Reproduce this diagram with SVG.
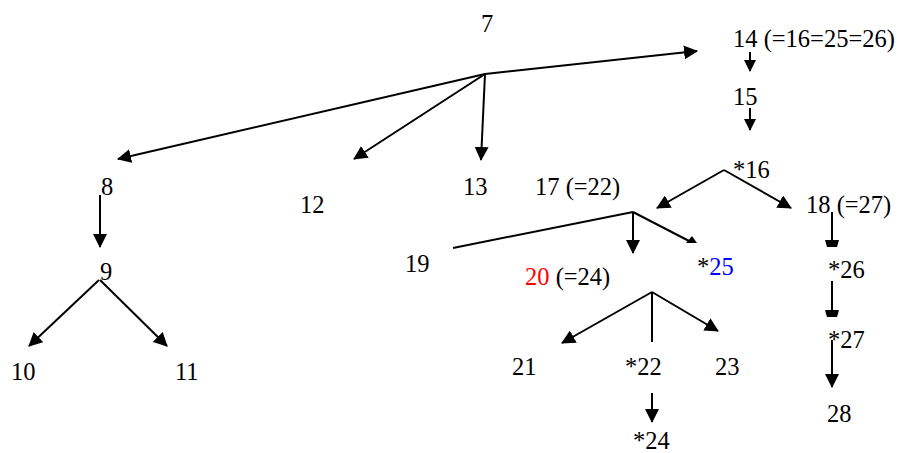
<svg xmlns="http://www.w3.org/2000/svg" width="898" height="453" viewBox="0 0 898 453">
<style>
text { font-family: 'Liberation Serif', 'Times New Roman', Tinos, 'DejaVu Serif', serif; font-size: 24.5px; fill: #000; }
.red { fill: #ff0000; }
.blue { fill: #0000ff; }
.c line, .c polyline { stroke: #000; stroke-width: 2; fill: none; }
.c polygon { fill: #000; stroke: none; }
.a { marker-end: url(#ah); }
.s { marker-end: url(#sh); }
</style>
<defs>
<marker id="ah" viewBox="0 0 14 14" markerWidth="14" markerHeight="14" refX="13" refY="7" orient="auto" markerUnits="userSpaceOnUse">
<path d="M0,0 L14,7 L0,14 z" fill="#000"/>
</marker>
<marker id="sh" viewBox="0 0 12 12" markerWidth="12" markerHeight="12" refX="11" refY="6" orient="auto" markerUnits="userSpaceOnUse">
<path d="M0,0 L12,6 L0,12 z" fill="#000"/>
</marker>
</defs>
<g id="connectors" class="c">
<line class="a" x1="485" y1="74" x2="697" y2="51"/>
<line class="a" x1="485" y1="74" x2="118" y2="159"/>
<line class="a" x1="485" y1="74" x2="354" y2="159"/>
<line class="a" x1="485" y1="74" x2="481" y2="160"/>
<line class="s" x1="750" y1="52" x2="750" y2="71"/>
<line class="s" x1="750" y1="108" x2="750" y2="130"/>
<line class="a" x1="100" y1="195" x2="100" y2="247"/>
<line class="a" x1="99" y1="280" x2="29" y2="346"/>
<line class="a" x1="100" y1="280" x2="167" y2="346"/>
<line class="a" x1="724" y1="170" x2="657" y2="208"/>
<line class="a" x1="724" y1="170" x2="791" y2="208"/>
<line x1="633" y1="212" x2="453" y2="248"/>
<line class="a" x1="633" y1="212" x2="633" y2="253"/>
<line x1="633" y1="212" x2="691" y2="242"/>
<polygon points="686,243 692,236 697,243"/>
<line x1="832" y1="212" x2="832" y2="241"/>
<polygon points="825,240 839,240 837,247 827,247"/>
<line x1="832" y1="281" x2="832" y2="311"/>
<polygon points="825,310 839,310 837,317 827,317"/>
<line class="a" x1="832" y1="340" x2="832" y2="387"/>
<line class="a" x1="652" y1="292" x2="562" y2="343"/>
<line class="a" x1="652" y1="292" x2="718" y2="331"/>
<line x1="652" y1="292" x2="652" y2="342"/>
<line class="a" x1="652" y1="393" x2="652" y2="422"/>
</g>
<g id="n7"><text x="481" y="32">7</text></g>
<g id="n14"><text x="733" y="47">14 (=16=25=26)</text></g>
<g id="n15"><text x="733" y="105">15</text></g>
<g id="n8"><text x="101" y="195">8</text></g>
<g id="n12"><text x="300" y="213">12</text></g>
<g id="n13"><text x="463" y="195">13</text></g>
<g id="n9"><text x="100" y="280">9</text></g>
<g id="n10"><text x="11" y="380">10</text></g>
<g id="n11"><text x="175" y="380">11</text></g>
<g id="n16"><text x="733" y="178">*16</text></g>
<g id="n17"><text x="535" y="195">17 (=22)</text></g>
<g id="n18"><text x="806" y="213">18 (=27)</text></g>
<g id="n19"><text x="405" y="272">19</text></g>
<g id="n20"><text x="525" y="285"><tspan class="red">20</tspan> (=24)</text></g>
<g id="n25"><text x="697" y="275">*<tspan class="blue">25</tspan></text></g>
<g id="n26"><text x="828" y="278">*26</text></g>
<g id="n21"><text x="512" y="375">21</text></g>
<g id="n22"><text x="625" y="375">*22</text></g>
<g id="n23"><text x="715" y="375">23</text></g>
<g id="n24"><text x="633" y="449">*24</text></g>
<g id="n27"><text x="828" y="348">*27</text></g>
<g id="n28"><text x="827" y="422">28</text></g>
</svg>
